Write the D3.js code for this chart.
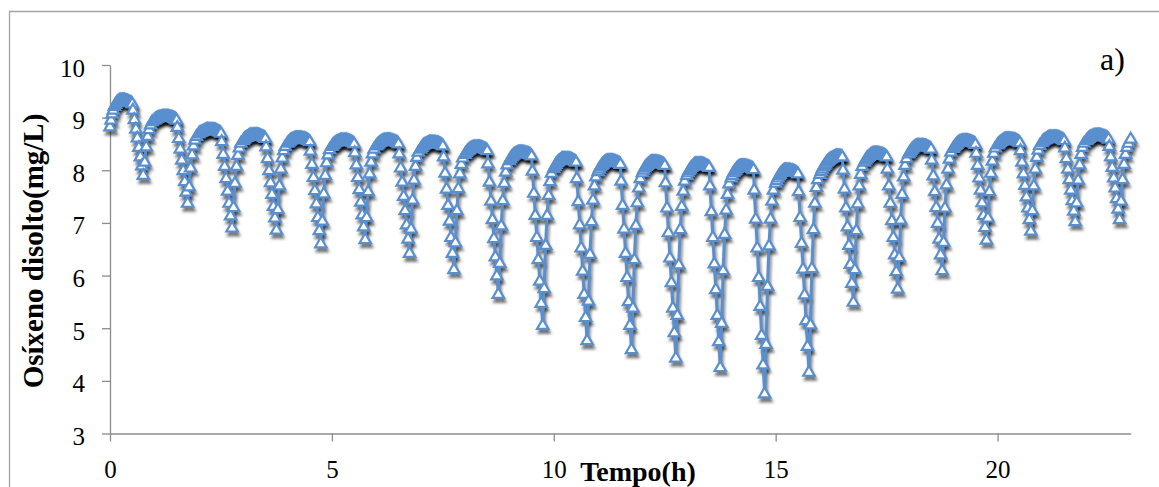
<!DOCTYPE html>
<html>
<head>
<meta charset="utf-8">
<script src="https://cdn.jsdelivr.net/npm/d3@7"></script>
<style>
  html, body { margin: 0; padding: 0; background: #fff; overflow: hidden; }
  svg { display: block; }
</style>
</head>
<body>
<svg id="chart" width="1159" height="487"></svg>
<script>
// Sampling schedule inside each hour (minutes after the hour):
// every 1.5 min up to minute 30, then the drawdown and recovery samples
const sampleMinutes = [0, 1.5, 3, 4.5, 6, 7.5, 9, 10.5, 12, 13.5, 15, 16.5, 18, 19.5, 21, 22.5, 24, 25.5, 27, 28.5, 30,
                       31, 33, 35, 37, 39, 41, 43, 45,
                       47, 49, 51, 53, 55, 57];

// Dissolved oxygen (mg/L), one row per hour, aligned with sampleMinutes
const hour00 = [8.85,8.98,9.10,9.17,9.24,9.28,9.31,9.33,9.35,9.36,9.36,9.36,9.36,9.36,9.35,9.35,9.34,9.33,9.32,9.31,9.29, 9.17,8.99,8.81,8.64,8.46,8.28,8.11, 7.93, 8.18,8.47,8.67,8.80,8.89,8.95];
const hour01 = [8.98,9.00,9.01,9.02,9.03,9.04,9.04,9.05,9.05,9.05,9.05,9.05,9.05,9.05,9.04,9.04,9.03,9.02,9.01,9.00,8.98, 8.84,8.63,8.43,8.22,8.02,7.81,7.61, 7.40, 7.71,8.07,8.32,8.49,8.60,8.67];
const hour02 = [8.72,8.74,8.75,8.76,8.77,8.78,8.79,8.80,8.80,8.80,8.80,8.80,8.80,8.80,8.79,8.79,8.78,8.77,8.76,8.75,8.73, 8.57,8.33,8.10,7.87,7.63,7.40,7.16, 6.93, 7.32,7.78,8.10,8.31,8.45,8.54];
const hour03 = [8.59,8.62,8.64,8.65,8.66,8.68,8.69,8.70,8.70,8.70,8.70,8.70,8.70,8.70,8.69,8.69,8.68,8.67,8.66,8.65,8.63, 8.47,8.25,8.02,7.79,7.57,7.34,7.12, 6.89, 7.28,7.73,8.05,8.26,8.40,8.48];
const hour04 = [8.54,8.56,8.58,8.60,8.61,8.62,8.63,8.64,8.64,8.64,8.64,8.64,8.64,8.64,8.63,8.63,8.62,8.61,8.60,8.59,8.57, 8.39,8.14,7.89,7.64,7.39,7.13,6.88, 6.63, 7.06,7.58,7.93,8.17,8.32,8.42];
const hour05 = [8.48,8.51,8.53,8.55,8.56,8.57,8.58,8.59,8.60,8.60,8.60,8.60,8.60,8.60,8.59,8.59,8.58,8.57,8.56,8.55,8.53, 8.36,8.13,7.89,7.66,7.42,7.18,6.95, 6.71, 7.13,7.62,7.96,8.18,8.34,8.43];
const hour06 = [8.49,8.51,8.53,8.55,8.56,8.58,8.59,8.60,8.60,8.60,8.60,8.60,8.60,8.60,8.59,8.59,8.58,8.57,8.56,8.55,8.53, 8.34,8.07,7.80,7.53,7.26,6.99,6.72, 6.45, 6.91,7.46,7.84,8.10,8.27,8.37];
const hour07 = [8.43,8.46,8.49,8.51,8.52,8.53,8.54,8.55,8.56,8.56,8.56,8.56,8.56,8.56,8.55,8.55,8.54,8.53,8.52,8.51,8.49, 8.28,7.97,7.67,7.36,7.06,6.75,6.45, 6.14, 6.65,7.26,7.68,7.96,8.14,8.26];
const hour08 = [8.33,8.36,8.39,8.41,8.42,8.44,8.45,8.46,8.47,8.47,8.47,8.47,8.47,8.47,8.46,8.46,8.45,8.44,8.43,8.42,8.40, 8.15,7.80,7.44,7.09,6.73,6.38,6.02, 5.67, 6.26,6.97,7.45,7.78,7.99,8.13];
const hour09 = [8.21,8.25,8.28,8.30,8.32,8.34,8.35,8.36,8.37,8.37,8.37,8.37,8.37,8.37,8.36,8.36,8.35,8.34,8.33,8.32,8.30, 8.01,7.59,7.17,6.75,6.33,5.92,5.50, 5.08, 5.78,6.60,7.17,7.55,7.81,7.97];
const hour10 = [8.06,8.10,8.14,8.17,8.19,8.21,8.22,8.24,8.25,8.25,8.25,8.25,8.25,8.25,8.24,8.24,8.23,8.22,8.21,8.20,8.18, 7.87,7.43,6.99,6.55,6.11,5.67,5.23, 4.79, 5.54,6.43,7.05,7.46,7.73,7.90];
const hour11 = [8.00,8.05,8.09,8.12,8.14,8.16,8.18,8.20,8.21,8.21,8.21,8.21,8.21,8.21,8.20,8.20,8.19,8.18,8.17,8.16,8.14, 7.82,7.36,6.91,6.45,5.99,5.53,5.08, 4.62, 5.41,6.33,6.98,7.41,7.69,7.87];
const hour12 = [7.98,8.03,8.07,8.10,8.12,8.14,8.16,8.18,8.19,8.19,8.19,8.19,8.19,8.19,8.18,8.18,8.17,8.16,8.15,8.14,8.12, 7.79,7.31,6.84,6.36,5.89,5.41,4.94, 4.46, 5.27,6.23,6.90,7.34,7.63,7.82];
const hour13 = [7.93,7.98,8.02,8.05,8.08,8.10,8.12,8.14,8.15,8.15,8.15,8.15,8.15,8.15,8.14,8.14,8.13,8.12,8.11,8.10,8.08, 7.73,7.24,6.75,6.25,5.76,5.27,4.77, 4.28, 5.12,6.12,6.81,7.27,7.57,7.77];
const hour14 = [7.88,7.93,7.98,8.01,8.03,8.06,8.08,8.10,8.11,8.11,8.11,8.11,8.11,8.11,8.10,8.10,8.09,8.08,8.07,8.06,8.04, 7.65,7.10,6.55,5.99,5.44,4.89,4.33, 3.78, 4.72,5.82,6.59,7.10,7.44,7.65];
const hour15 = [7.78,7.83,7.88,7.92,7.95,7.98,8.00,8.02,8.03,8.03,8.03,8.03,8.03,8.03,8.02,8.02,8.01,8.00,7.99,7.98,7.96, 7.62,7.13,6.64,6.15,5.66,5.17,4.68, 4.19, 5.09,6.16,6.90,7.40,7.70,7.85];
const hour16 = [7.95,8.00,8.05,8.09,8.12,8.15,8.18,8.20,8.22,8.24,8.25,8.26,8.27,8.28,8.29,8.30,8.30,8.30,8.30,8.29,8.28, 8.03,7.67,7.31,6.95,6.60,6.24,5.88, 5.52, 6.14,6.88,7.39,7.73,7.95,8.10];
const hour17 = [8.18,8.22,8.25,8.27,8.29,8.31,8.33,8.34,8.35,8.35,8.35,8.35,8.35,8.35,8.34,8.34,8.33,8.32,8.31,8.30,8.28, 8.05,7.73,7.40,7.07,6.75,6.42,6.10, 5.77, 6.37,7.08,7.57,7.90,8.12,8.25];
const hour18 = [8.34,8.37,8.40,8.43,8.45,8.47,8.48,8.49,8.50,8.50,8.50,8.50,8.50,8.50,8.49,8.49,8.48,8.47,8.46,8.45,8.43, 8.22,7.92,7.62,7.32,7.02,6.72,6.42, 6.12, 6.66,7.31,7.75,8.05,8.24,8.37];
const hour19 = [8.44,8.47,8.50,8.52,8.54,8.56,8.57,8.58,8.59,8.59,8.59,8.59,8.59,8.59,8.58,8.58,8.57,8.56,8.55,8.54,8.52, 8.35,8.12,7.88,7.65,7.41,7.17,6.94, 6.70, 7.12,7.62,7.97,8.20,8.35,8.45];
const hour20 = [8.51,8.53,8.55,8.57,8.58,8.60,8.61,8.62,8.62,8.62,8.62,8.62,8.62,8.62,8.61,8.61,8.60,8.59,8.58,8.57,8.55, 8.40,8.18,7.96,7.74,7.52,7.31,7.09, 6.87, 7.26,7.73,8.05,8.27,8.41,8.50];
const hour21 = [8.55,8.58,8.60,8.61,8.62,8.64,8.65,8.66,8.66,8.66,8.66,8.66,8.66,8.66,8.65,8.65,8.64,8.63,8.62,8.61,8.59, 8.45,8.25,8.05,7.85,7.65,7.45,7.25, 7.05, 7.41,7.84,8.13,8.33,8.46,8.54];
const hour22 = [8.59,8.61,8.63,8.65,8.66,8.67,8.68,8.69,8.69,8.69,8.69,8.69,8.69,8.69,8.68,8.68,8.67,8.66,8.65,8.64,8.62, 8.48,8.28,8.08,7.88,7.69,7.49,7.29, 7.09, 7.44,7.85,8.14,8.33,8.46,8.54];
const lastTime = 23;
const lastValue = 8.62;

const hourlyRows = [hour00, hour01, hour02, hour03, hour04, hour05, hour06, hour07,
                    hour08, hour09, hour10, hour11, hour12, hour13, hour14, hour15,
                    hour16, hour17, hour18, hour19, hour20, hour21, hour22];

const xTicks = [0, 5, 10, 15, 20];
const yTicks = [3, 4, 5, 6, 7, 8, 9, 10];
const xTitle = "Tempo(h)";
const yTitle = "Osíxeno disolto(mg/L)";
const panelTag = "a)";

// Flatten into (time, value) points
const points = [];
hourlyRows.forEach((row, h) => {
  row.forEach((v, i) => points.push({ t: h + sampleMinutes[i] / 60, v }));
});
points.push({ t: lastTime, v: lastValue });

const svg = d3.select("#chart");
const blue = "#5A8FCF";
const axisGray = "#8C8C8C";
const serif = "'Liberation Serif', 'Times New Roman', serif";

const x = d3.scaleLinear().domain([0, 23]).range([110, 1130.7]);
const y = d3.scaleLinear().domain([3, 10]).range([433.5, 65]);

// chart-area frame (left and top edges)
svg.append("path")
  .attr("d", "M9.5,487 V11.5 H1159")
  .attr("fill", "none")
  .attr("stroke", "#A3A3A3")
  .attr("stroke-width", 1.3);

const defs = svg.append("defs");
defs.append("filter").attr("id", "shadowBlur")
  .attr("x", "-5%").attr("y", "-5%").attr("width", "110%").attr("height", "120%")
  .append("feGaussianBlur").attr("stdDeviation", 1.5);

// axes
const yAxis = d3.axisLeft(y).tickValues(yTicks).tickFormat(d3.format("d"))
  .tickSize(8).tickSizeOuter(0).tickPadding(17);
const xAxis = d3.axisBottom(x).tickValues(xTicks).tickFormat(d3.format("d"))
  .tickSize(8).tickSizeOuter(0);

const gy = svg.append("g").attr("transform", `translate(${x(0)},0)`).call(yAxis);
const gx = svg.append("g").attr("transform", `translate(0,${y(3)})`).call(xAxis);

[gx, gy].forEach(g => {
  g.select(".domain").attr("stroke", axisGray).attr("stroke-width", 1.3);
  g.selectAll(".tick line").attr("stroke", axisGray).attr("stroke-width", 1.3);
  g.selectAll(".tick text")
    .attr("fill", "#000")
    .style("font-family", serif)
    .style("font-size", "25px");
});
gy.selectAll(".tick text").attr("dy", "0.44em");
gx.selectAll(".tick text").attr("y", 44.5).attr("dy", 0);

// series
const line = d3.line().x(d => x(d.t)).y(d => y(d.v));
const tri = "M0,-4.9 L5.7,4.9 L-5.7,4.9 Z";

// soft drop shadow beneath line and markers
const shadow = svg.append("g")
  .attr("transform", "translate(1.5,4)")
  .attr("filter", "url(#shadowBlur)");
shadow.append("path")
  .datum(points)
  .attr("d", line)
  .attr("fill", "none")
  .attr("stroke", "#000")
  .attr("stroke-opacity", 0.5)
  .attr("stroke-width", 3);
shadow.selectAll("path.s")
  .data(points)
  .join("path")
  .attr("class", "s")
  .attr("d", tri)
  .attr("transform", d => `translate(${x(d.t)},${y(d.v)})`)
  .attr("fill", "#000")
  .attr("fill-opacity", 0.45)
  .attr("stroke", "#000")
  .attr("stroke-opacity", 0.45)
  .attr("stroke-width", 2.2);

const series = svg.append("g");
series.append("path")
  .datum(points)
  .attr("d", line)
  .attr("fill", "none")
  .attr("stroke", blue)
  .attr("stroke-width", 3)
  .attr("stroke-linejoin", "round");
series.selectAll("path.m")
  .data(points)
  .join("path")
  .attr("class", "m")
  .attr("d", tri)
  .attr("transform", d => `translate(${x(d.t)},${y(d.v)})`)
  .attr("fill", "#fff")
  .attr("stroke", blue)
  .attr("stroke-width", 2.2)
  .attr("stroke-linejoin", "miter");

// titles
svg.append("text")
  .attr("transform", "translate(43,251) rotate(-90)")
  .attr("text-anchor", "middle")
  .style("font-family", serif)
  .style("font-weight", "bold")
  .style("font-size", "29px")
  .text(yTitle);

svg.append("text")
  .attr("x", 638).attr("y", 481)
  .attr("text-anchor", "middle")
  .style("font-family", serif)
  .style("font-weight", "bold")
  .style("font-size", "28px")
  .text(xTitle);

svg.append("text")
  .attr("x", 1100).attr("y", 70)
  .style("font-family", serif)
  .style("font-size", "32px")
  .text(panelTag);
</script>
</body>
</html>
